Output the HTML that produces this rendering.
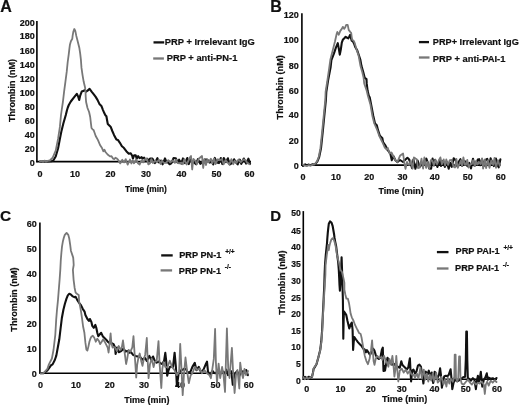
<!DOCTYPE html>
<html><head><meta charset="utf-8"><style>
html,body{margin:0;padding:0;background:#fff;width:520px;height:405px;overflow:hidden}
svg{display:block;will-change:transform;filter:blur(0.35px)}
text{font-family:"Liberation Sans",sans-serif;font-weight:bold;fill:#111;stroke:#111;stroke-width:0.2}
</style></head><body>
<svg width="520" height="405" viewBox="0 0 520 405">
<text x="0.3" y="11.8" font-size="16" text-anchor="start" >A</text>
<text transform="translate(14.7,90.6) rotate(-90)" font-size="9" text-anchor="middle">Thrombin (nM)</text>
<text x="34.8" y="25.849999999999998" font-size="9" text-anchor="end" >200</text>
<text x="34.8" y="39.0" font-size="9" text-anchor="end" >180</text>
<text x="34.8" y="54.2" font-size="9" text-anchor="end" >160</text>
<text x="34.8" y="68.0" font-size="9" text-anchor="end" >140</text>
<text x="34.8" y="82.0" font-size="9" text-anchor="end" >120</text>
<text x="34.8" y="96.0" font-size="9" text-anchor="end" >100</text>
<text x="34.8" y="109.7" font-size="9" text-anchor="end" >80</text>
<text x="34.8" y="123.7" font-size="9" text-anchor="end" >60</text>
<text x="34.8" y="137.5" font-size="9" text-anchor="end" >40</text>
<text x="34.8" y="152.0" font-size="9" text-anchor="end" >20</text>
<text x="34.8" y="166.0" font-size="9" text-anchor="end" >0</text>
<text x="40" y="176.8" font-size="9" text-anchor="middle" >0</text>
<text x="75.1" y="176.8" font-size="9" text-anchor="middle" >10</text>
<text x="110.4" y="176.8" font-size="9" text-anchor="middle" >20</text>
<text x="146.1" y="176.8" font-size="9" text-anchor="middle" >30</text>
<text x="181.4" y="176.8" font-size="9" text-anchor="middle" >40</text>
<text x="216.5" y="176.8" font-size="9" text-anchor="middle" >50</text>
<text x="249.4" y="176.8" font-size="9" text-anchor="middle" >60</text>
<text x="125.0" y="191.7" font-size="8.3" text-anchor="start" >Time (min)</text>
<line x1="153.5" y1="42.4" x2="164.2" y2="42.4" stroke="#111" stroke-width="2.3"/>
<text x="164.8" y="45.3" font-size="9.35" text-anchor="start" >PRP + Irrelevant IgG</text>
<line x1="153.2" y1="58.5" x2="163.9" y2="58.5" stroke="#787878" stroke-width="2.3"/>
<text x="166.7" y="61.3" font-size="9.35" text-anchor="start" >PRP + anti-PN-1</text>
<text x="270.3" y="11.8" font-size="16" text-anchor="start" >B</text>
<text transform="translate(282.7,87.3) rotate(-90)" font-size="9.2" text-anchor="middle">Thrombin (nM)</text>
<text x="298.8" y="18.4" font-size="9" text-anchor="end" >120</text>
<text x="298.8" y="43.2" font-size="9" text-anchor="end" >100</text>
<text x="298.8" y="68.9" font-size="9" text-anchor="end" >80</text>
<text x="298.8" y="93.5" font-size="9" text-anchor="end" >60</text>
<text x="298.8" y="118.2" font-size="9" text-anchor="end" >40</text>
<text x="298.8" y="144.29999999999998" font-size="9" text-anchor="end" >20</text>
<text x="298.8" y="169.2" font-size="9" text-anchor="end" >0</text>
<text x="303.1" y="179.8" font-size="9" text-anchor="middle" >0</text>
<text x="336" y="179.8" font-size="9" text-anchor="middle" >10</text>
<text x="369.3" y="179.8" font-size="9" text-anchor="middle" >20</text>
<text x="402.5" y="179.8" font-size="9" text-anchor="middle" >30</text>
<text x="434.7" y="179.8" font-size="9" text-anchor="middle" >40</text>
<text x="467.8" y="179.8" font-size="9" text-anchor="middle" >50</text>
<text x="500.7" y="179.8" font-size="9" text-anchor="middle" >60</text>
<text x="378.5" y="193.7" font-size="9" text-anchor="start" >Time (min)</text>
<line x1="418.9" y1="42.1" x2="429" y2="42.1" stroke="#111" stroke-width="2.3"/>
<text x="432.8" y="45.2" font-size="9.2" text-anchor="start" >PRP+ Irrelevant IgG</text>
<line x1="418.9" y1="57.5" x2="429.5" y2="57.5" stroke="#787878" stroke-width="2.3"/>
<text x="432.8" y="61.5" font-size="9.35" text-anchor="start" >PRP + anti-PAI-1</text>
<text x="0" y="221.2" font-size="15.5" text-anchor="start" >C</text>
<text transform="translate(17.3,299.5) rotate(-90)" font-size="9.2" text-anchor="middle">Thrombin (nM)</text>
<text x="36.7" y="227.1" font-size="9" text-anchor="end" >60</text>
<text x="36.7" y="252.29999999999998" font-size="9" text-anchor="end" >50</text>
<text x="36.7" y="276.8" font-size="9" text-anchor="end" >40</text>
<text x="36.7" y="302.2" font-size="9" text-anchor="end" >30</text>
<text x="36.7" y="327.4" font-size="9" text-anchor="end" >20</text>
<text x="36.7" y="352.4" font-size="9" text-anchor="end" >10</text>
<text x="36.7" y="377.3" font-size="9" text-anchor="end" >0</text>
<text x="40.6" y="388.3" font-size="9" text-anchor="middle" >0</text>
<text x="75.9" y="388.3" font-size="9" text-anchor="middle" >10</text>
<text x="109.8" y="388.3" font-size="9" text-anchor="middle" >20</text>
<text x="144" y="388.3" font-size="9" text-anchor="middle" >30</text>
<text x="180" y="388.3" font-size="9" text-anchor="middle" >40</text>
<text x="215.4" y="388.3" font-size="9" text-anchor="middle" >50</text>
<text x="248.8" y="388.3" font-size="9" text-anchor="middle" >60</text>
<text x="124.2" y="403.3" font-size="9" text-anchor="start" >Time (min)</text>
<line x1="161.2" y1="255.4" x2="172.7" y2="255.4" stroke="#111" stroke-width="2.3"/>
<text x="179.2" y="258.3" font-size="9.2" text-anchor="start" >PRP PN-1 <tspan font-size="6.6" dx="1.2" dy="-4.4">+/+</tspan></text>
<line x1="160.6" y1="270.4" x2="172.1" y2="270.4" stroke="#787878" stroke-width="2.3"/>
<text x="178.8" y="273.7" font-size="9.2" text-anchor="start" >PRP PN-1 <tspan font-size="6.6" dx="1.2" dy="-4.4">-/-</tspan></text>
<text x="270.3" y="220.7" font-size="15" text-anchor="start" >D</text>
<text transform="translate(284.7,282.6) rotate(-90)" font-size="9.2" text-anchor="middle">Thrombin (nM)</text>
<text x="300.9" y="216.1" font-size="8.6" text-anchor="end" >50</text>
<text x="300.9" y="233.5" font-size="8.6" text-anchor="end" >45</text>
<text x="300.9" y="250.2" font-size="8.6" text-anchor="end" >40</text>
<text x="300.9" y="267.1" font-size="8.6" text-anchor="end" >35</text>
<text x="300.9" y="283.8" font-size="8.6" text-anchor="end" >30</text>
<text x="300.9" y="300.6" font-size="8.6" text-anchor="end" >25</text>
<text x="300.9" y="317.3" font-size="8.6" text-anchor="end" >20</text>
<text x="300.9" y="333.70000000000005" font-size="8.6" text-anchor="end" >15</text>
<text x="300.9" y="350.1" font-size="8.6" text-anchor="end" >10</text>
<text x="300.9" y="366.8" font-size="8.6" text-anchor="end" >5</text>
<text x="300.9" y="383.6" font-size="8.6" text-anchor="end" >0</text>
<text x="306.7" y="392.3" font-size="9" text-anchor="middle" >0</text>
<text x="340.4" y="392.3" font-size="9" text-anchor="middle" >10</text>
<text x="370.7" y="392.3" font-size="9" text-anchor="middle" >20</text>
<text x="401.7" y="392.3" font-size="9" text-anchor="middle" >30</text>
<text x="434.6" y="392.3" font-size="9" text-anchor="middle" >40</text>
<text x="465.8" y="392.3" font-size="9" text-anchor="middle" >50</text>
<text x="496.9" y="392.3" font-size="9" text-anchor="middle" >60</text>
<text x="381.9" y="402.3" font-size="9" text-anchor="start" >Time (min)</text>
<line x1="436.9" y1="252.1" x2="448.5" y2="252.1" stroke="#111" stroke-width="2.3"/>
<text x="455.6" y="254.4" font-size="9.2" text-anchor="start" >PRP PAI-1 <tspan font-size="6.6" dx="1.2" dy="-4.4">+/+</tspan></text>
<line x1="436.9" y1="268.5" x2="448.5" y2="268.5" stroke="#787878" stroke-width="2.3"/>
<text x="455.0" y="271.2" font-size="9.2" text-anchor="start" >PRP PAI-1 <tspan font-size="6.6" dx="1.2" dy="-4.4">-/-</tspan></text>
<line x1="36.9" y1="21" x2="36.9" y2="162.3" stroke="#000" stroke-width="1.6"/>
<line x1="36.2" y1="161.6" x2="251" y2="161.6" stroke="#000" stroke-width="1.6"/>
<line x1="301.9" y1="13.3" x2="301.9" y2="165.8" stroke="#000" stroke-width="1.6"/>
<line x1="301.2" y1="165.1" x2="500.5" y2="165.1" stroke="#000" stroke-width="1.6"/>
<line x1="39.9" y1="222.5" x2="39.9" y2="374" stroke="#000" stroke-width="1.6"/>
<line x1="39.2" y1="373.3" x2="248" y2="373.3" stroke="#000" stroke-width="1.6"/>
<line x1="303.3" y1="211.1" x2="303.3" y2="380" stroke="#000" stroke-width="1.6"/>
<line x1="302.6" y1="379.3" x2="497" y2="379.3" stroke="#000" stroke-width="1.6"/>
<polyline points="40.0,161.5 48.0,161.5 51.5,161.2 53.3,160.5 55.7,156.5 58.1,148.2 59.9,138.7 61.6,130.4 63.4,123.3 65.8,115.0 66.9,110.5 67.8,107.5 68.8,105.0 70.8,101.5 73.8,97.6 76.8,93.8 78.2,96.6 79.2,100.0 80.2,95.6 81.7,91.6 83.2,91.1 84.7,90.1 86.1,91.6 87.6,90.6 89.6,88.9 91.6,91.6 93.6,94.1 95.5,96.6 97.5,99.9 99.4,103.9 101.4,105.9 102.9,109.8 104.4,113.3 105.4,115.2 106.4,116.2 107.0,119.7 107.8,124.1 109.3,125.6 110.8,127.1 112.3,131.0 114.0,134.9 116.4,139.4 117.9,139.9 119.9,142.8 121.9,146.3 123.8,147.8 126.3,151.2 128.8,153.7 130.7,153.2 132.2,155.7 132.9,158.6 134.2,155.2 135.7,155.2 136.7,158.6 138.1,156.2 139.6,158.1 141.6,157.2 142.6,158.6 144.1,157.7 145.6,159.6 147.0,158.6 148.5,160.6 150.0,158.6 152.4,158.6 154.9,163.1 157.4,158.2 158.9,162.5 161.0,160.5 162.6,164.3 165.0,158.4 166.5,162.2 167.9,162.4 169.6,164.2 171.3,163.3 173.5,158.1 175.8,158.2 177.5,162.3 179.1,159.7 181.2,163.6 183.0,158.4 185.0,163.1 187.3,158.0 188.7,164.1 190.1,159.6 192.2,162.0 193.8,162.4 196.1,164.3 197.9,159.2 200.3,163.8 202.6,162.0 205.2,159.6 207.3,159.6 209.8,162.7 211.6,160.3 213.2,164.5 214.8,157.9 216.8,162.5 218.9,163.1 220.8,158.1 222.3,164.1 223.8,158.0 226.0,162.1 227.9,158.3 229.6,164.5 232.1,163.1 234.1,159.3 235.8,162.2 237.7,164.4 239.8,159.6 241.3,163.9 243.8,158.5 246.1,163.6 248.4,158.7 250.1,163.9" fill="none" stroke="#111" stroke-width="2.1" stroke-linejoin="round" stroke-linecap="round" opacity="1"/>
<polyline points="40.0,161.3 41.5,160.8 43.0,161.8 44.5,160.6 46.0,161.7 47.5,160.9 49.8,160.5 52.7,157.7 55.7,150.6 58.1,138.7 59.9,126.9 61.0,115.0 61.7,110.0 62.9,102.0 64.1,91.6 65.4,81.8 66.7,71.9 67.7,62.0 68.7,54.6 69.4,48.7 69.9,44.8 70.9,41.3 72.3,38.8 72.6,35.9 73.3,31.9 74.3,29.0 75.3,30.9 76.3,35.9 77.8,41.8 79.3,47.7 80.2,53.6 80.9,59.6 81.2,64.0 81.5,67.9 82.5,74.8 83.7,81.8 84.9,86.7 85.5,90.6 85.7,96.6 86.1,102.0 87.5,108.0 89.1,112.0 90.2,117.0 91.0,124.0 91.5,128.0 92.7,129.5 93.6,130.0 95.7,136.0 98.0,140.1 100.0,145.0 102.0,148.1 103.4,151.3 104.4,149.7 105.5,152.0 107.6,154.5 110.0,156.4 111.5,156.2 113.0,158.6 114.4,159.1 115.4,157.7 116.9,158.6 118.0,159.7 120.3,163.4 122.2,159.8 124.1,162.4 125.7,159.1 127.7,164.6 130.0,159.5 131.4,163.5 132.7,160.4 134.0,163.3 136.2,159.5 138.0,163.3 139.6,164.6 141.7,160.2 143.2,162.4 145.3,159.0 147.0,159.0 148.3,164.4 150.0,163.2 151.4,159.1 152.9,163.0 155.2,160.7 156.8,162.3 158.9,159.7 160.6,164.0 162.0,160.7 163.7,162.8 166.0,162.9 168.3,160.1 170.4,162.4 172.8,160.4 174.9,162.9 176.2,159.6 177.7,163.1 179.5,163.4 181.4,162.6 182.8,164.2 184.3,159.2 186.6,164.5 188.8,160.0 189.8,157.5 191.0,156.0 192.2,169.5 193.4,159.0 195.3,160.8 196.8,164.2 198.7,158.8 200.8,157.0 202.0,156.0 203.2,168.0 204.4,159.0 206.0,165.0 207.2,159.6 208.6,162.2 210.9,158.7 212.2,163.4 214.2,158.6 215.5,164.0 217.8,159.3 219.9,160.2 221.9,158.9 223.6,164.3 225.5,160.1 227.4,162.4 229.3,164.3 231.4,159.2 233.3,164.2 234.6,160.9 236.5,162.8 238.5,159.5 240.8,162.2 242.4,160.5 243.8,159.4 245.6,160.2 247.5,163.2 249.7,164.3" fill="none" stroke="#787878" stroke-width="1.8" stroke-linejoin="round" stroke-linecap="round" opacity="1"/>
<polyline points="303.0,166.0 305.2,164.3 306.9,165.3 308.4,164.6 310.2,165.3 312.2,164.4 314.7,164.6 317.3,161.6 319.2,157.0 321.0,148.4 322.8,131.1 324.5,113.8 325.9,100.0 326.3,92.0 328.2,79.7 330.6,67.3 331.4,60.0 333.9,53.6 335.9,47.7 337.8,43.2 338.8,48.6 339.8,54.6 340.8,49.6 341.8,42.7 342.8,39.8 344.3,38.3 345.7,36.8 347.2,37.8 348.2,38.3 349.2,36.8 350.2,34.8 350.9,37.8 351.7,40.7 353.1,41.7 354.1,43.7 355.1,46.7 357.3,50.6 359.3,56.5 360.3,59.5 361.5,66.1 363.3,72.3 364.7,77.8 366.5,79.1 366.7,83.4 367.6,90.8 368.8,95.7 369.8,97.6 371.1,104.4 373.3,116.0 375.0,123.5 376.8,125.3 378.0,130.2 379.9,135.8 382.4,138.3 383.0,142.0 385.5,145.7 387.4,149.6 390.3,153.5 391.8,160.2 393.5,156.3 395.4,160.2 397.3,162.1 400.0,160.0 403.0,162.0 405.0,160.0 407.4,157.8 408.8,159.0 410.2,162.0 412.1,168.2 413.4,159.5 415.4,168.8 417.6,160.5 419.7,166.8 421.2,165.0 423.2,165.4 424.7,160.4 426.3,158.6 427.8,162.6 429.1,168.4 431.1,168.7 432.6,158.6 433.9,165.4 435.2,159.8 437.4,167.0 439.6,160.4 441.0,165.9 442.9,161.1 444.9,166.9 446.9,162.1 448.7,168.8 450.1,162.7 451.8,166.8 453.7,158.3 455.7,160.4 457.4,166.5 458.9,161.6 460.4,159.2 462.2,165.9 464.0,161.0 465.8,161.7 467.4,166.2 469.3,162.9 471.0,168.4 473.0,158.7 474.4,165.5 475.7,164.9 477.8,159.6 479.1,159.2 480.4,165.3 482.1,159.2 483.8,165.9 485.6,159.9 487.2,158.9 489.3,165.5 490.6,158.4 492.1,161.9 493.9,166.1 495.9,158.5 497.3,164.9 498.7,167.3 500.4,159.3" fill="none" stroke="#111" stroke-width="2.1" stroke-linejoin="round" stroke-linecap="round" opacity="1"/>
<polyline points="303.0,164.4 304.9,165.7 307.1,166.0 308.9,165.1 310.5,165.6 312.6,164.8 314.7,164.3 317.0,161.4 318.7,157.0 320.4,148.4 322.2,131.1 323.9,113.8 325.3,100.0 325.6,92.0 327.5,79.7 329.3,67.3 330.4,59.5 332.9,49.6 334.9,41.7 336.7,33.8 337.3,31.9 338.8,34.8 340.3,30.9 341.8,28.9 342.8,26.9 344.3,28.9 345.2,27.4 346.2,24.9 347.7,24.9 348.7,29.9 350.2,31.9 351.2,32.8 351.7,36.8 352.2,39.8 353.6,40.7 354.6,42.7 356.6,49.6 358.6,55.6 360.5,66.1 362.3,72.3 363.6,77.8 364.2,83.4 366.7,90.8 367.9,95.7 370.4,104.4 372.4,116.0 374.3,123.5 377.3,130.2 379.2,135.8 382.3,142.0 384.8,147.7 386.7,149.6 387.7,147.7 389.6,153.5 391.5,152.5 393.5,156.3 395.4,160.2 397.3,162.1 400.2,155.4 403.1,153.5 404.5,164.0 405.5,168.8 407.0,162.0 408.5,164.6 409.6,164.8 410.7,160.4 412.6,168.6 413.9,157.5 415.6,158.6 416.7,159.2 418.0,168.1 419.6,167.7 421.5,158.7 423.1,168.6 424.4,157.4 426.1,167.9 427.7,161.9 429.2,168.4 430.8,160.1 432.4,160.6 433.8,165.3 435.4,160.0 437.0,164.3 439.0,160.0 440.4,157.4 441.9,164.3 443.7,159.4 445.1,165.6 446.3,159.5 448.1,164.9 449.8,160.1 451.6,159.9 453.4,166.5 455.0,167.5 456.4,159.0 457.8,167.9 459.4,164.0 460.9,160.5 462.1,166.0 463.4,157.4 464.8,164.9 466.0,164.8 467.3,159.8 468.6,167.5 470.5,164.1 471.9,164.0 473.1,160.2 474.8,166.2 476.1,160.8 477.2,164.6 479.0,161.9 480.5,164.1 482.0,158.4 483.1,168.7 484.9,159.5 486.1,168.1 487.9,160.3 489.5,167.8 491.3,160.3 493.2,164.8 494.5,158.0 496.0,167.9 497.9,160.1 499.7,165.8" fill="none" stroke="#787878" stroke-width="1.8" stroke-linejoin="round" stroke-linecap="round" opacity="1"/>
<polyline points="40.5,373.3 43.5,373.2 44.4,372.6 47.4,370.4 49.6,367.4 51.1,365.2 52.6,364.4 54.8,360.0 56.3,355.6 57.8,347.5 59.3,339.3 60.4,330.0 61.9,317.7 63.4,309.8 64.9,303.8 66.4,298.9 67.8,295.4 69.3,293.8 70.8,294.4 72.8,296.4 74.3,297.1 75.7,296.9 77.2,299.9 78.7,302.3 80.7,304.8 82.7,308.8 84.6,311.7 85.4,315.0 87.4,319.0 88.9,320.9 89.9,319.0 91.4,321.9 92.3,325.9 93.8,327.8 95.3,324.9 96.3,327.8 97.3,332.8 98.3,336.2 99.8,334.3 101.2,332.8 102.7,336.2 104.7,338.2 106.2,339.7 107.7,341.7 109.6,343.1 111.6,343.1 113.6,344.1 115.1,347.6 115.6,354.0 117.0,347.6 118.7,352.2 121.2,351.0 123.6,348.5 125.5,351.6 127.3,351.0 129.2,352.8 131.0,352.2 132.9,354.7 135.4,355.9 137.8,356.5 140.3,357.2 142.5,359.6 144.9,357.8 146.8,360.9 149.3,355.9 151.1,359.6 153.0,356.5 154.8,360.9 156.7,362.7 158.5,361.5 160.4,363.3 162.2,364.0 164.1,360.9 165.3,352.8 166.2,360.9 167.2,375.7 168.4,370.7 169.8,367.1 171.4,366.6 173.0,367.1 174.6,352.7 175.9,367.1 176.9,386.0 178.6,373.5 181.0,370.3 182.7,369.8 184.3,368.7 185.9,369.0 187.5,371.9 189.1,372.8 190.7,371.1 192.4,366.9 194.8,362.9 196.4,370.1 198.8,366.9 201.2,372.5 203.6,369.3 206.0,363.7 207.0,361.7 208.0,371.7 210.1,374.9 212.5,370.9 214.1,372.9 215.7,373.3 218.1,370.1 219.7,373.0 221.3,373.3 223.0,371.5 224.9,373.6 226.4,369.7 228.0,375.1 229.5,370.5 231.4,371.5 232.8,384.8 234.5,374.2 237.1,371.2 239.2,375.9 241.6,371.2 244.0,371.7 246.2,370.0 247.9,375.2" fill="none" stroke="#111" stroke-width="2.1" stroke-linejoin="round" stroke-linecap="round" opacity="1"/>
<polyline points="40.5,373.3 43.0,373.2 44.0,372.6 45.8,370.6 47.4,368.9 48.9,364.4 51.9,358.5 53.5,350.0 55.3,334.8 56.2,319.6 57.0,309.8 58.0,299.9 58.8,289.6 59.6,279.8 60.3,269.9 60.8,260.0 61.4,252.7 62.0,246.7 62.8,241.8 63.8,237.8 64.8,234.9 66.6,232.9 68.3,234.9 69.3,238.8 70.2,244.8 70.9,250.7 72.2,254.6 73.2,257.6 73.5,261.5 73.7,265.0 72.9,269.9 73.6,279.8 74.6,287.7 75.6,292.6 77.2,294.0 78.7,294.9 79.2,301.9 80.2,306.8 81.2,312.7 82.2,319.6 83.1,326.5 84.4,332.8 85.4,342.7 86.4,349.6 87.4,350.6 88.4,346.6 89.4,341.7 90.4,338.7 91.4,336.7 92.8,335.7 94.3,337.7 95.8,341.7 97.3,338.7 98.8,340.7 100.2,344.1 101.7,341.7 103.2,339.2 104.7,341.7 106.2,344.6 107.7,347.6 108.6,352.5 109.6,343.6 110.6,333.3 111.4,343.6 112.6,347.6 114.1,347.1 115.0,347.3 116.9,351.0 118.7,346.0 120.6,349.8 121.8,347.3 123.0,340.5 123.9,347.3 124.9,354.7 126.1,364.0 127.3,358.4 128.6,349.8 130.4,351.6 132.3,347.3 133.5,336.2 134.5,352.2 135.4,364.6 136.2,377.5 137.2,364.6 138.5,357.2 139.7,353.5 141.2,360.9 142.5,365.8 143.7,359.6 145.2,354.7 146.8,338.0 147.7,360.9 148.6,378.1 149.9,364.6 151.7,358.4 153.6,367.0 154.8,362.1 156.7,360.9 158.5,341.1 159.5,362.1 161.3,388.0 162.3,369.0 163.5,362.1 165.3,367.0 167.4,367.1 169.8,360.7 172.2,367.1 174.6,370.3 177.0,375.1 179.1,371.9 180.2,343.8 181.4,367.1 182.7,395.2 183.9,375.1 185.5,357.5 187.2,371.9 188.8,383.2 190.7,375.1 192.4,373.3 194.8,366.9 197.2,370.1 199.6,368.5 202.0,373.3 204.4,370.1 206.9,373.3 209.3,374.9 210.9,378.2 212.2,370.1 213.8,358.9 215.1,329.0 215.9,362.1 217.0,383.0 218.6,363.7 220.2,378.2 222.1,366.9 223.5,375.0 225.0,392.0 226.9,328.3 228.2,368.0 229.5,378.0 231.9,347.8 233.0,370.0 234.6,393.0 236.0,375.0 237.5,370.0 239.3,388.5 240.2,362.6 241.5,372.0 243.0,378.0 244.5,369.0 246.0,375.0 248.0,371.0" fill="none" stroke="#787878" stroke-width="1.8" stroke-linejoin="round" stroke-linecap="round" opacity="1"/>
<polyline points="303.5,377.3 304.9,376.9 306.8,378.5 308.7,376.7 310.4,377.5 312.0,376.8 312.9,373.0 313.6,368.8 315.0,366.8 316.5,364.2 318.2,358.0 320.2,350.0 321.2,342.0 322.0,331.9 323.3,305.9 324.3,285.0 324.6,274.6 325.0,264.8 325.8,254.9 326.8,245.0 326.9,244.6 327.3,238.6 327.8,232.7 328.3,227.8 328.8,223.8 330.0,221.4 331.6,222.8 332.6,225.8 333.3,229.8 334.0,233.7 334.5,237.7 335.2,241.6 336.2,246.5 337.2,254.9 338.2,262.3 338.8,270.0 339.2,278.0 339.5,285.0 339.9,290.7 340.9,276.0 341.6,257.4 342.1,272.0 342.5,287.0 342.9,300.0 343.1,320.0 343.3,338.8 343.6,322.0 343.9,311.3 346.2,314.8 347.5,321.0 349.3,328.4 350.6,324.7 351.8,322.5 352.6,330.0 353.1,350.0 353.7,342.0 354.3,337.0 356.0,339.5 358.1,342.4 360.1,344.5 361.7,346.1 363.3,348.7 364.8,349.7 365.9,352.3 366.9,350.2 368.4,352.3 370.0,354.9 371.6,351.8 373.1,348.7 374.5,350.7 375.7,354.9 377.3,358.0 378.8,359.0 380.4,357.5 381.9,349.7 382.8,347.6 383.2,361.1 383.5,371.0 384.3,366.0 385.0,370.7 386.0,364.7 387.5,357.8 388.9,360.8 390.4,362.8 391.9,364.7 393.9,363.8 395.8,365.7 397.8,366.7 399.8,367.7 401.3,361.3 402.3,364.7 403.7,366.2 405.2,367.7 406.7,369.7 408.2,367.7 409.9,358.3 410.5,370.7 411.1,381.5 412.1,370.7 413.5,369.7 415.0,373.6 416.4,371.7 417.9,365.7 419.4,364.7 420.9,366.7 421.9,372.6 423.4,383.5 424.3,374.6 425.8,371.7 427.3,374.6 428.8,370.7 430.3,376.6 431.7,372.6 433.2,383.0 434.7,371.7 436.2,375.7 437.5,377.7 439.0,374.7 440.1,368.3 440.9,374.7 441.9,387.6 442.9,380.7 444.4,376.2 445.9,375.7 447.4,376.2 448.8,374.7 450.6,369.3 451.3,376.7 452.3,389.1 453.6,382.6 455.2,379.7 457.2,381.2 459.2,380.2 461.2,378.7 463.1,377.2 465.1,376.7 465.8,360.0 466.3,331.6 466.9,331.6 467.3,360.0 467.8,377.7 469.0,378.7 470.9,380.7 472.9,378.2 474.4,379.7 475.9,389.1 476.9,380.7 477.9,375.8 478.8,381.7 479.8,378.7 480.8,371.8 481.6,379.7 482.3,386.6 483.8,379.7 485.3,377.7 486.8,373.3 487.7,379.7 488.7,377.7 490.7,378.7 492.7,378.2 494.7,379.7 496.5,378.0" fill="none" stroke="#111" stroke-width="2.1" stroke-linejoin="round" stroke-linecap="round" opacity="1"/>
<polyline points="303.5,377.1 304.8,379.3 306.8,377.3 308.0,378.9 310.6,377.0 312.2,376.5 313.1,372.0 313.8,368.0 315.2,366.0 316.6,363.6 318.4,357.5 320.4,349.5 321.4,341.5 322.2,331.9 323.5,305.9 324.8,285.0 325.4,274.6 325.6,264.8 326.8,254.9 328.3,245.0 328.8,250.0 329.3,246.5 330.3,242.6 331.3,239.6 332.6,238.1 333.8,239.6 334.8,242.6 335.7,246.5 337.0,255.0 339.0,263.0 340.5,270.0 342.0,272.0 343.4,277.9 344.4,282.9 344.4,289.8 345.4,294.8 346.4,298.7 347.9,298.7 348.9,302.7 349.3,304.9 349.9,308.6 350.6,313.6 351.8,317.3 353.6,321.0 354.9,324.7 356.7,328.4 357.6,330.0 359.1,333.1 360.7,334.1 361.7,338.3 362.7,344.5 363.8,350.7 364.8,355.9 366.4,361.1 367.9,364.2 369.5,359.0 371.0,350.7 372.1,340.4 372.8,350.7 373.6,361.1 374.5,364.8 375.7,359.0 377.3,355.9 379.3,358.0 381.4,357.0 382.4,359.9 384.0,355.9 385.5,359.8 387.0,362.8 388.4,366.7 389.4,358.8 390.9,364.7 392.4,355.9 393.4,364.7 394.4,376.6 395.4,369.7 396.3,355.9 397.3,369.7 398.3,381.5 399.8,370.7 401.8,368.7 403.7,372.6 405.7,369.7 407.7,373.6 409.7,370.7 411.6,374.6 413.5,374.6 415.0,377.6 416.9,373.6 418.4,378.6 420.4,367.7 421.9,378.6 423.8,369.7 425.3,379.6 426.8,373.6 428.3,381.5 429.8,374.6 431.2,380.5 432.7,373.6 434.2,381.5 436.2,372.6 437.7,382.5 439.5,380.7 441.4,376.7 443.4,384.6 444.9,379.7 446.4,386.6 447.8,377.7 449.3,383.6 450.8,378.7 452.8,381.7 454.3,376.7 454.7,354.6 455.6,354.6 456.0,377.7 457.2,381.7 458.2,378.7 459.1,356.5 460.0,356.5 460.5,378.7 461.7,383.6 463.6,384.6 466.0,381.7 468.0,379.7 470.0,382.7 471.9,384.6 473.9,381.7 475.9,384.6 477.9,382.7 479.8,383.7 481.8,381.7 483.8,384.6 484.8,394.0 485.8,384.6 487.2,381.7 488.7,385.6 490.7,380.7 492.7,382.7 494.7,380.2 496.5,382.0" fill="none" stroke="#787878" stroke-width="1.8" stroke-linejoin="round" stroke-linecap="round" opacity="1"/>
</svg></body></html>
